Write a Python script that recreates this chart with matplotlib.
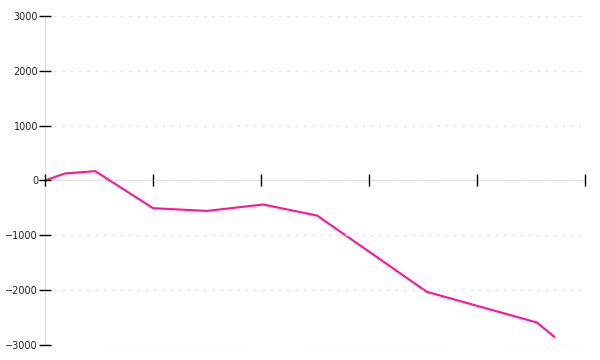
import matplotlib
matplotlib.use("Agg")
import matplotlib.pyplot as plt

# values
x_vals = [0, 0.37, 0.93, 2.0, 3.0, 4.04, 5.04, 7.07, 9.11, 9.43]
y_vals = [0, 128, 170, -505, -555, -438, -640, -2030, -2590, -2850]
y_ticks = [-3000, -2000, -1000, 0, 1000, 2000, 3000]
x_ticks = [0, 2, 4, 6, 8, 10]

fig = plt.figure(figsize=(6, 3.6), dpi=100)
ax = fig.add_axes([0.075, 0.0417, 0.9, 0.914])

ax.plot(x_vals, y_vals, color='#ff1493', linewidth=1.5, zorder=2)

ax.set_xlim(0, 10)
ax.set_ylim(-3000, 3000)
ax.set_yticks(y_ticks)
ax.set_xticks(x_ticks)
ax.set_xticklabels([])

for s in ['top', 'right']:
    ax.spines[s].set_visible(False)
ax.spines['left'].set_color('#dddddd')
ax.spines['bottom'].set_position(('data', 0))
ax.spines['bottom'].set_color('#dddddd')
for s in ['left', 'bottom']:
    ax.spines[s].set_zorder(1)

ax.tick_params(axis='y', direction='inout', length=8, width=1, color='black',
               labelsize=7, labelcolor='#222222', pad=1)
ax.tick_params(axis='x', direction='inout', length=9, width=1, color='black')

ax.yaxis.grid(True, linestyle=(0, (2, 4)), color='#e6e6e6', linewidth=1, zorder=0)
ax.set_axisbelow(False)

fig.savefig('out.png', dpi=100)
